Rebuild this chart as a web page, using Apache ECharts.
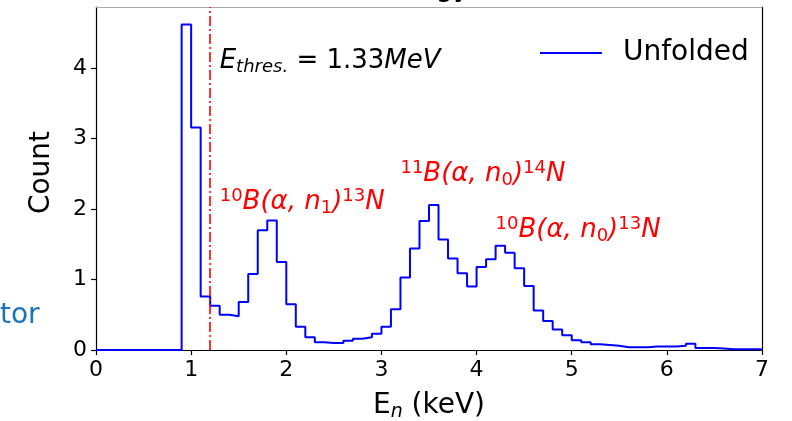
<!DOCTYPE html>
<html>
<head>
<meta charset="utf-8">
<script src="https://cdn.jsdelivr.net/npm/echarts@6/dist/echarts.min.js"></script>
<style>
html, body { margin: 0; padding: 0; background: #fff; }
#main { width: 792px; height: 421px; }
</style>
</head>
<body>
<div id="main"></div>
<script>
// unfolded neutron spectrum, 0.1 keV bins from 0 to 7 keV
const binStart = 0;
const binWidth = 0.1;
const counts = [
    0, 0, 0, 0, 0, 0, 0, 0, 0, 4.62,
    3.16, 0.76, 0.63, 0.50, 0.48, 0.68, 1.08, 1.70, 1.84, 1.25,
    0.65, 0.33, 0.18, 0.11, 0.10, 0.10, 0.13, 0.16, 0.18, 0.23,
    0.33, 0.58, 1.03, 1.44, 1.83, 2.06, 1.57, 1.30, 1.09, 0.90,
    1.18, 1.29, 1.48, 1.38, 1.16, 0.91, 0.56, 0.41, 0.29, 0.21,
    0.14, 0.11, 0.08, 0.07, 0.06, 0.04, 0.04, 0.04, 0.05, 0.05,
    0.05, 0.06, 0.09, 0.03, 0.03, 0.02, 0.01, 0.01, 0.01, 0.01
];
const xTicks = [0, 1, 2, 3, 4, 5, 6, 7];
const yTicks = [0, 1, 2, 3, 4];
const yMax = 4.87;
const thresholdE = 1.2;

// text labels placed in data coords (left / baseline)
const notes = [
    { x: 1.3, y: 4.0, color: '#000', text: '{E|E}{Es|thres.}{rm| = 1.33}{it|MeV}' },
    { x: 1.3, y: 2.0, color: '#ff0000', text: '{sup|10}{it|B(α, n}{sub|1}{it|)}{sup|13}{it|N}' },
    { x: 3.2, y: 2.4, color: '#ff0000', text: '{sup|11}{it|B(α, n}{sub|0}{it|)}{sup|14}{it|N}' },
    { x: 4.2, y: 1.6, color: '#ff0000', text: '{sup|10}{it|B(α, n}{sub|0}{it|)}{sup|13}{it|N}' }
];

const FONT = 'DejaVu Sans';
const NOTE_SIZE = 26;

let stepData = counts.map((c, i) => [binStart + i * binWidth, c]);
stepData.push([binStart + counts.length * binWidth, 0]);

const chart = echarts.init(document.getElementById('main'));

const option = {
    animation: false,
    backgroundColor: '#fff',
    textStyle: { fontFamily: FONT },
    grid: { left: 96, right: 30, top: 7, bottom: 71, outerBoundsMode: 'none' },
    legend: {
        data: ['Unfolded'],
        left: 535,
        top: 34,
        icon: 'rect',
        itemWidth: 62,
        itemHeight: 2,
        textStyle: { fontFamily: FONT, fontSize: 28, color: '#000', padding: [0, 0, 0, 16] }
    },
    xAxis: [{
        type: 'value',
        min: 0,
        max: 7,
        interval: 1,
        name: '{e|E}{n|n}{e| (keV)}',
        nameLocation: 'middle',
        nameGap: 40,
        nameTextStyle: {
            rich: {
                e: { fontFamily: FONT, fontSize: 28, color: '#000', lineHeight: 32 },
                n: { fontFamily: FONT, fontSize: 19, fontStyle: 'italic', color: '#000', lineHeight: 22, verticalAlign: 'bottom' }
            }
        },
        axisLine: { show: true, lineStyle: { color: '#000', width: 1.2 } },
        axisTick: { show: true, length: 5, lineStyle: { color: '#000', width: 1.2 }, customValues: xTicks },
        axisLabel: { fontFamily: FONT, fontSize: 22, color: '#000', margin: 9, customValues: xTicks },
        splitLine: { show: false }
    }, {
        type: 'value',
        position: 'top',
        min: 0,
        max: 7,
        axisLine: { show: true, onZero: false, lineStyle: { color: '#aaa', width: 1 } },
        axisTick: { show: false },
        axisLabel: { show: false },
        splitLine: { show: false }
    }],
    yAxis: [{
        type: 'value',
        min: 0,
        max: yMax,
        name: 'Count',
        nameLocation: 'middle',
        nameGap: 40,
        nameTextStyle: { fontFamily: FONT, fontSize: 28, color: '#000', padding: [0, 0, 0, 12] },
        axisLine: { show: true, lineStyle: { color: '#000', width: 1.2 } },
        axisTick: { show: true, length: 5, lineStyle: { color: '#000', width: 1.2 }, customValues: yTicks },
        axisLabel: { fontFamily: FONT, fontSize: 22, color: '#000', margin: 9, customValues: yTicks },
        splitLine: { show: false }
    }, {
        type: 'value',
        position: 'right',
        min: 0,
        max: yMax,
        axisLine: { show: true, onZero: false, lineStyle: { color: '#000', width: 1.2 } },
        axisTick: { show: false },
        axisLabel: { show: false },
        splitLine: { show: false }
    }],
    series: [{
        name: 'Unfolded',
        type: 'line',
        step: 'end',
        data: stepData,
        symbol: 'none',
        lineStyle: { color: '#0000ff', width: 2 },
        itemStyle: { color: '#0000ff' },
        markLine: {
            silent: true,
            symbol: ['none', 'none'],
            label: { show: false },
            lineStyle: { color: '#ff0000', width: 1.6, type: [10, 3, 2, 3] },
            data: [{ xAxis: thresholdE }]
        }
    }]
};

chart.setOption(option);

// rich styles for the math-like labels (graphic text uses fill)
const richFor = (c) => ({
    E: { fontFamily: FONT, fontSize: NOTE_SIZE, fontStyle: 'italic', fill: c, lineHeight: 30 },
    Es: { fontFamily: FONT, fontSize: 18, fontStyle: 'italic', fill: c, lineHeight: 20, verticalAlign: 'bottom' },
    rm: { fontFamily: FONT, fontSize: NOTE_SIZE, fill: c, lineHeight: 30 },
    it: { fontFamily: FONT, fontSize: NOTE_SIZE, fontStyle: 'italic', fill: c, lineHeight: 30 },
    sup: { fontFamily: FONT, fontSize: 18, fill: c, lineHeight: 14, verticalAlign: 'top' },
    sub: { fontFamily: FONT, fontSize: 18, fill: c, lineHeight: 19, verticalAlign: 'bottom' }
});

const graphics = notes.map(n => {
    const p = chart.convertToPixel({ xAxisIndex: 0, yAxisIndex: 0 }, [n.x, n.y]);
    return {
        type: 'text',
        x: p[0],
        y: p[1] - (15 + 0.22 * NOTE_SIZE) - 1,
        z: 10,
        style: { text: n.text, rich: richFor(n.color), fill: n.color, align: 'left', verticalAlign: 'top' }
    };
});

// pieces of neighbouring panels that bleed into the crop
graphics.push({
    type: 'text', x: 0, y: 316,
    style: { text: 'tor', fontFamily: FONT, fontSize: 28, fill: '#1a73bd', align: 'left', verticalAlign: 'middle' }
});
graphics.push({
    type: 'text', x: 470, y: -11,
    style: { text: 'Energy', fontFamily: FONT, fontSize: 28, fill: '#000', align: 'right', verticalAlign: 'middle' }
});

chart.setOption({ graphic: graphics });
</script>
</body>
</html>
